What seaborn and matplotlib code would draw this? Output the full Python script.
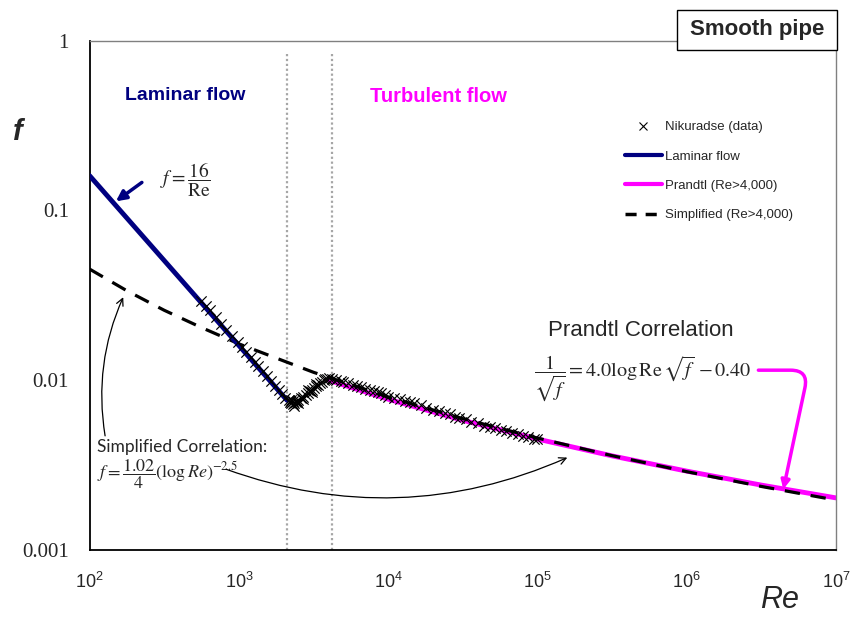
import matplotlib
matplotlib.use("Agg")
import matplotlib.pyplot as plt
import seaborn as sns
import pandas as pd
from matplotlib.lines import Line2D
from matplotlib.patches import Rectangle
from matplotlib.ticker import FixedLocator, NullLocator, FixedFormatter

# ---------------- data ----------------
laminar_re = [100, 2100]
laminar_f = [0.16, 0.00762]

simp_re = [100, 178, 316, 562, 1000, 3162, 10000, 31623, 100000, 316228,
           1000000, 3162278, 10000000]
simp_f = [0.04508, 0.03358, 0.02580, 0.02040, 0.01636, 0.011126, 0.007969,
          0.005936, 0.004562, 0.003594, 0.002892, 0.002367, 0.001967]

prandtl_re = [4000, 10000, 31623, 100000, 316228, 1000000, 3162278, 10000000]
prandtl_f = [0.009986, 0.007727, 0.005803, 0.004500, 0.003582, 0.002913,
             0.002411, 0.002027]

nik_re = [560, 600, 640, 700, 760, 820, 900, 980, 1050, 1120, 1200, 1280,
          1350, 1450, 1550, 1650, 1750, 1850, 1950, 2050,
          2150, 2200, 2250, 2250, 2300, 2300, 2350, 2350, 2400, 2450, 2500,
          2500, 2600, 2700, 2700, 2800, 2900, 2900, 3000, 3100, 3100, 3200,
          3300, 3300, 3400, 3500, 3600, 3700, 3800, 3900, 4000,
          4200, 4500, 4800, 5000, 5400, 5800, 6200, 6600, 7000, 7500, 8000,
          8500, 9000, 9500, 10000, 11000, 12000, 13000, 14000, 15000, 16500,
          18000, 20000, 22000, 24000, 26000, 28000, 30000, 33000, 36000,
          40000, 44000, 48000, 52000, 57000, 62000, 68000, 74000, 80000,
          87000, 95000, 100000]
nik_f = [0.0292, 0.0272, 0.0258, 0.0235, 0.0215, 0.0198, 0.0182, 0.0168,
         0.0157, 0.0146, 0.0137, 0.0128, 0.0121, 0.0113, 0.0106, 0.0099,
         0.0093, 0.0088, 0.0083, 0.0079,
         0.0076, 0.0074, 0.0073, 0.0076, 0.0072, 0.0075, 0.0073, 0.0070,
         0.0074, 0.0075, 0.0076, 0.0073, 0.0078, 0.0080, 0.0077, 0.0082,
         0.0084, 0.0087, 0.0086, 0.0088, 0.0085, 0.0090, 0.0092, 0.0095,
         0.0094, 0.0096, 0.0098, 0.0100, 0.0101, 0.0102, 0.0103,
         0.0101, 0.0100, 0.0099, 0.0098, 0.0096, 0.0094, 0.0092, 0.0091,
         0.0089, 0.0088, 0.0086, 0.0085, 0.0084, 0.0082, 0.0080, 0.0078,
         0.0077, 0.0075, 0.0074, 0.0073, 0.0071, 0.0069, 0.0067, 0.0066,
         0.0064, 0.0063, 0.0061, 0.0060, 0.0059, 0.0057, 0.0056, 0.0054,
         0.0053, 0.0052, 0.0051, 0.0050, 0.0049, 0.0048, 0.0047, 0.0046,
         0.0045, 0.0045]

transition_re = [2100, 4200]

x_ticks = [1e2, 1e3, 1e4, 1e5, 1e6, 1e7]
x_tick_labels = [r"$\mathregular{10^{2}}$", r"$\mathregular{10^{3}}$",
                 r"$\mathregular{10^{4}}$", r"$\mathregular{10^{5}}$",
                 r"$\mathregular{10^{6}}$", r"$\mathregular{10^{7}}$"]
y_ticks = [0.001, 0.01, 0.1, 1]
y_tick_labels = ["0.001", "0.01", "0.1", "1"]

legend_labels = ["Nikuradse (data)", "Laminar flow", "Prandtl (Re>4,000)",
                 "Simplified (Re>4,000)"]

# ---------------- style ----------------
sns.set_style("white")
plt.rcParams["font.family"] = ["Liberation Sans", "DejaVu Sans"]

NAVY = "#000080"
MAGENTA = "#FF00FF"

fig = plt.figure(figsize=(8.52, 6.18), dpi=100)
ax = fig.add_axes([89.6 / 852, 1 - 550 / 618, (836 - 89.6) / 852, (550 - 40.5) / 618])
ax.set_xscale("log")
ax.set_yscale("log")

lam_df = pd.DataFrame({"Re": laminar_re, "f": laminar_f})
simp_df = pd.DataFrame({"Re": simp_re, "f": simp_f})
pr_df = pd.DataFrame({"Re": prandtl_re, "f": prandtl_f})
nik_df = pd.DataFrame({"Re": nik_re, "f": nik_f})

sns.lineplot(data=pr_df, x="Re", y="f", ax=ax, color=MAGENTA, lw=3.5,
             sort=False, estimator=None, zorder=2)
sns.lineplot(data=simp_df, x="Re", y="f", ax=ax, color="black", lw=2.3,
             sort=False, estimator=None, zorder=3)
ax.lines[-1].set_dashes([4.8, 3.4])
sns.lineplot(data=lam_df, x="Re", y="f", ax=ax, color=NAVY, lw=3.5,
             sort=False, estimator=None, zorder=4)
sns.scatterplot(data=nik_df, x="Re", y="f", ax=ax, color="black", marker="x",
                s=55, linewidth=0.85, zorder=5)

for xr in transition_re:
    ax.axvline(xr, ymin=0, ymax=0.977, color="#a6a6a6", ls=(0, (1, 1.2)), lw=1.6, zorder=1)

ax.set_xlim(1e2, 1e7)
ax.set_ylim(1e-3, 1)
ax.xaxis.set_major_locator(FixedLocator(x_ticks))
ax.xaxis.set_major_formatter(FixedFormatter(x_tick_labels))
ax.xaxis.set_minor_locator(NullLocator())
ax.yaxis.set_major_locator(FixedLocator(y_ticks))
ax.yaxis.set_major_formatter(FixedFormatter(y_tick_labels))
ax.yaxis.set_minor_locator(NullLocator())
ax.set_xlabel("")
ax.set_ylabel("")

ax.tick_params(axis="both", which="major", direction="out", length=5,
               color="#808080", width=1)
ax.tick_params(axis="x", pad=11, labelsize=13)
ax.tick_params(axis="y", pad=10, labelsize=15)
for lab in ax.get_yticklabels():
    lab.set_fontfamily("Liberation Serif")
for lab in ax.get_xticklabels():
    lab.set_fontfamily("Liberation Sans")

for side in ["left", "bottom"]:
    ax.spines[side].set_color("black")
    ax.spines[side].set_linewidth(1.3)
for side in ["top", "right"]:
    ax.spines[side].set_color("#808080")
    ax.spines[side].set_linewidth(1.0)

# ---------------- texts ----------------
ax.text(435, 0.475, "Laminar flow", color=NAVY, fontsize=14, fontweight="bold",
        ha="center", va="center")
ax.text(21600, 0.468, "Turbulent flow", color=MAGENTA, fontsize=14.5,
        fontweight="bold", ha="center", va="center")

ax.text(440, 0.150, r"$f=\dfrac{16}{\mathrm{Re}}$", fontsize=14, ha="center",
        va="center", math_fontfamily="stix")
ax.annotate("", xy=(150, 0.113), xytext=(224, 0.146),
            arrowprops=dict(arrowstyle="-|>,head_length=0.6,head_width=0.3",
                            color=NAVY, lw=2.5, shrinkA=0, shrinkB=0))

ax.text(489000, 0.0197, "Prandtl Correlation", fontsize=16, ha="center",
        va="center")
ax.text(510000, 0.01027, r"$\dfrac{1}{\sqrt{f}}=4.0\log\mathrm{Re}\,\sqrt{f}\,-0.40$",
        fontsize=14.5, ha="center", va="center", math_fontfamily="stix")
ax.annotate("", xy=(4.44e6, 0.00228), xytext=(3.02e6, 0.01145),
            arrowprops=dict(arrowstyle="-|>,head_length=0.5,head_width=0.25",
                            color=MAGENTA, lw=2.5, shrinkA=0, shrinkB=0,
                            connectionstyle="angle,angleA=0,angleB=78,rad=18"))

ax.text(112, 0.00405, "Simplified Correlation:", fontsize=12.5, ha="left",
        va="center", family=["Lato", "DejaVu Sans"])
ax.text(112, 0.00278, r"$f=\dfrac{1.02}{4}(\log Re)^{-2.5}$", fontsize=13,
        ha="left", va="center", math_fontfamily="stix")
ax.annotate("", xy=(168, 0.0308), xytext=(127, 0.00470),
            arrowprops=dict(arrowstyle="->,head_length=0.5,head_width=0.25",
                            color="black", lw=0.9, shrinkA=0, shrinkB=0,
                            connectionstyle="arc3,rad=-0.15"))
ax.annotate("", xy=(1.585e5, 0.00350), xytext=(820, 0.00299),
            arrowprops=dict(arrowstyle="->,head_length=0.5,head_width=0.25",
                            color="black", lw=0.9, shrinkA=0, shrinkB=0,
                            connectionstyle="arc3,rad=0.2"))

# axis labels
fig.text(18 / 852, 1 - 132 / 618, "f", fontsize=21, fontweight="bold",
         fontstyle="italic", ha="center", va="center")
fig.text(780 / 852, 1 - 600 / 618, "Re", fontsize=22, fontstyle="italic",
         ha="center", va="center")

# Smooth pipe box
fig.patches.append(Rectangle((677 / 852, 1 - 50 / 618), 160 / 852, 40 / 618,
                             transform=fig.transFigure, facecolor="white",
                             edgecolor="black", lw=1.0, zorder=10))
fig.text(757 / 852, 1 - 30 / 618, "Smooth pipe", fontsize=16, fontweight="bold",
         ha="center", va="center", zorder=11)

# legend
handles = [
    Line2D([], [], ls="none", marker="x", color="black", markersize=6, mew=0.8),
    Line2D([], [], color=NAVY, lw=3),
    Line2D([], [], color=MAGENTA, lw=3),
    Line2D([], [], color="black", lw=2.5, dashes=[3.2, 2.6]),
]
ax.legend(handles, legend_labels, loc="upper left",
          bbox_to_anchor=((625 - 89.6) / 746.4, 1 - (121 - 40.5) / 509.5),
          frameon=False, fontsize=9.5, handlelength=2.8, handletextpad=0.2,
          labelspacing=1.3, borderpad=0, borderaxespad=0)

fig.savefig("out.png", dpi=100)
